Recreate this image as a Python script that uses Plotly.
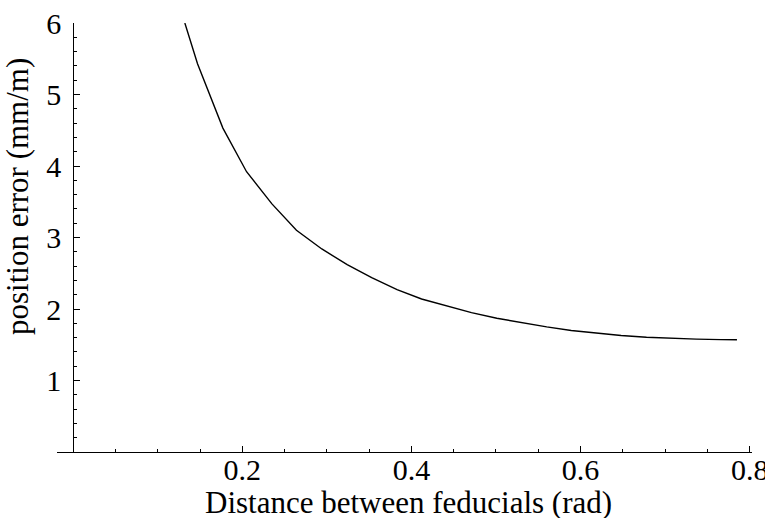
import plotly.graph_objects as go

# Data
x_rad = [0.132, 0.147, 0.177, 0.205, 0.235, 0.264, 0.294, 0.324, 0.353, 0.383,
         0.412, 0.442, 0.471, 0.501, 0.530, 0.560, 0.589, 0.619, 0.648, 0.678,
         0.707, 0.737, 0.766, 0.785]
pos_error = [6.0, 5.43, 4.53, 3.92, 3.47, 3.10, 2.84, 2.62, 2.44, 2.27,
             2.14, 2.04, 1.95, 1.87, 1.81, 1.75, 1.70, 1.66, 1.63, 1.605,
             1.59, 1.578, 1.572, 1.57]

x_ticks = [0.2, 0.4, 0.6, 0.8]
x_tick_labels = ["0.2", "0.4", "0.6", "0.8"]
x_minor = [0.05, 0.1, 0.15, 0.25, 0.3, 0.35, 0.45, 0.5, 0.55, 0.65, 0.7, 0.75]
y_ticks = [1, 2, 3, 4, 5, 6]
y_tick_labels = ["1", "2", "3", "4", "5", "6"]

x_title = "Distance between feducials (rad)"
y_title = "position error (mm/m)"

FONT = "Liberation Serif, Times New Roman, serif"
TICK_SIZE = 30
TITLE_SIZE = 31

W, H = 765, 518
pl, pr, pt, pb = 57, 13, 23, 66
pw, ph = W - pl - pr, H - pt - pb

x_min, x_max = -0.0192, 0.8028
y_pos = (0 - x_min) / (x_max - x_min)


def px_to_paper(px, py):
    return (px - pl) / pw, (H - pb - py) / ph


fig = go.Figure()
fig.add_trace(go.Scatter(x=x_rad, y=pos_error, mode="lines",
                         line=dict(color="black", width=1.4),
                         showlegend=False, hoverinfo="skip"))

ax, ay = px_to_paper(408, 502)
bx, by = px_to_paper(17, 197)

fig.update_layout(
    width=W, height=H,
    margin=dict(l=pl, r=pr, t=pt, b=pb, autoexpand=False),
    paper_bgcolor="white", plot_bgcolor="white",
    font=dict(family=FONT, size=TICK_SIZE, color="black"),
    xaxis=dict(range=[x_min, x_max], tickvals=x_ticks, ticktext=x_tick_labels,
               automargin=False, ticklabeloverflow="allow",
               showgrid=False, zeroline=False, showline=True, linecolor="black",
               linewidth=1, ticks="inside", ticklen=6, tickcolor="black",
               tickwidth=1, ticklabelstandoff=-9,
               minor=dict(tickvals=x_minor, ticks="inside", ticklen=3,
                          tickcolor="black", showgrid=False),
               tickfont=dict(family=FONT, size=TICK_SIZE)),
    yaxis=dict(range=[0, 6], tickvals=y_ticks, ticktext=y_tick_labels,
               automargin=False, ticklabeloverflow="allow",
               anchor="free", position=y_pos,
               showgrid=False, zeroline=False, showline=True, linecolor="black",
               linewidth=1, ticks="inside", ticklen=6, tickcolor="black",
               tickwidth=1, ticklabelstandoff=6,
               minor=dict(dtick=0.2, ticks="inside", ticklen=3,
                          tickcolor="black", showgrid=False),
               tickfont=dict(family=FONT, size=TICK_SIZE)),
    annotations=[
        dict(text=x_title, x=ax, y=ay, xref="paper", yref="paper",
             xanchor="center", yanchor="middle", showarrow=False,
             font=dict(family=FONT, size=TITLE_SIZE)),
        dict(text=y_title, x=bx, y=by, xref="paper", yref="paper",
             xanchor="center", yanchor="middle", textangle=-90,
             showarrow=False, font=dict(family=FONT, size=TITLE_SIZE)),
    ],
)

fig.write_html("out.html",
               config={"displayModeBar": False},
               post_script="document.body.style.margin='0';"
                           "document.body.style.overflow='hidden';")
